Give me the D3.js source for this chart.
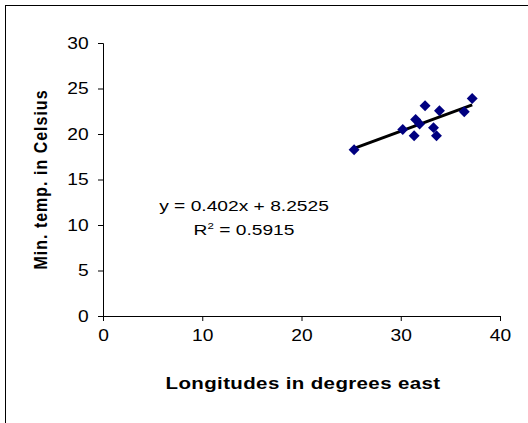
<!DOCTYPE html>
<html>
<head>
<meta charset="utf-8">
<script src="https://cdn.jsdelivr.net/npm/d3@7"></script>
<style>
  body { margin: 0; background: #fff; }
  text { font-family: "Liberation Sans", Arial, sans-serif; fill: #000; }
</style>
</head>
<body>
<div id="chart"></div>
<script>
// longitude (deg E) vs minimum temperature (C)
const longitudes = [25.3, 30.2, 31.35, 31.5, 31.9, 32.45, 33.3, 33.6, 33.9, 36.4, 37.2];
const minTemps   = [18.26, 20.5, 19.8, 21.6, 21.1, 23.1, 20.7, 19.8, 22.55, 22.45, 23.9];
const xTicks = [0, 10, 20, 30, 40];
const yTicks = [0, 5, 10, 15, 20, 25, 30];
const trendSlope = 0.402;
const trendIntercept = 8.2525;
const rSquared = 0.5915;

const width = 528, height = 423;
const margin = { left: 103, right: 28, top: 43, bottom: 107 };
// the original picture was stretched sideways, so the text is too
const stretch = 1.28;

const svg = d3.select('#chart')
  .append('svg')
  .attr('width', width)
  .attr('height', height);

// outer chart border (only top/left fall inside the picture)
svg.append('rect')
  .attr('x', 5.5).attr('y', 5.5)
  .attr('width', 600).attr('height', 600)
  .attr('fill', 'none')
  .attr('stroke', '#000')
  .attr('stroke-width', 1);

const x = d3.scaleLinear().domain([0, 40]).range([margin.left, width - margin.right]);
const y = d3.scaleLinear().domain([0, 30]).range([height - margin.bottom, margin.top]);

// axes
const xAxis = svg.append('g')
  .attr('transform', `translate(0,${y(0)})`)
  .call(d3.axisBottom(x).tickValues(xTicks).tickSize(5).tickPadding(9));
const yAxis = svg.append('g')
  .attr('transform', `translate(${x(0)},0)`)
  .call(d3.axisLeft(y).tickValues(yTicks).tickSize(5).tickPadding(7));

[xAxis, yAxis].forEach(g => {
  g.select('.domain').attr('stroke', '#000');
  g.selectAll('.tick line').attr('stroke', '#000');
  g.selectAll('.tick text')
    .attr('font-size', 16)
    .attr('font-family', '"Liberation Sans", Arial, sans-serif')
    .attr('fill', '#000')
    .attr('transform', 'scale(1.2,1)');
});

// trend line across the data range
const [xMin, xMax] = d3.extent(longitudes);
svg.append('line')
  .attr('x1', x(xMin)).attr('y1', y(trendSlope * xMin + trendIntercept))
  .attr('x2', x(xMax)).attr('y2', y(trendSlope * xMax + trendIntercept))
  .attr('stroke', '#000')
  .attr('stroke-width', 3);

// diamond markers
const diamond = d3.symbol().type(d3.symbolSquare).size(60);
svg.append('g')
  .selectAll('path')
  .data(longitudes.map((lon, i) => ({ lon, t: minTemps[i] })))
  .enter()
  .append('path')
  .attr('d', diamond)
  .attr('transform', d => `translate(${x(d.lon)},${y(d.t)}) rotate(45)`)
  .attr('fill', '#000080');

// equation label
svg.append('text')
  .attr('transform', `translate(244,211) scale(${stretch},1)`)
  .attr('text-anchor', 'middle')
  .attr('font-size', 15)
  .text(`y = ${trendSlope}x + ${trendIntercept}`);

const r2 = svg.append('text')
  .attr('transform', `translate(244,235) scale(${stretch},1)`)
  .attr('text-anchor', 'middle')
  .attr('font-size', 15);
r2.append('tspan').text('R');
r2.append('tspan').attr('font-size', 9).attr('dy', -6).text('2');
r2.append('tspan').attr('dy', 6).text(` = ${rSquared}`);

// axis titles
svg.append('text')
  .attr('transform', `translate(303,389) scale(${stretch},1)`)
  .attr('text-anchor', 'middle')
  .attr('font-size', 16)
  .attr('font-weight', 'bold')
  .attr('letter-spacing', 0.3)
  .text('Longitudes in degrees east');

svg.append('text')
  .attr('transform', `translate(47,${(y(0) + y(30)) / 2}) rotate(-90) scale(1,1.15)`)
  .attr('text-anchor', 'middle')
  .attr('font-size', 16)
  .attr('font-weight', 'bold')
  .attr('letter-spacing', 1)
  .text('Min. temp. in Celsius');
</script>
</body>
</html>
